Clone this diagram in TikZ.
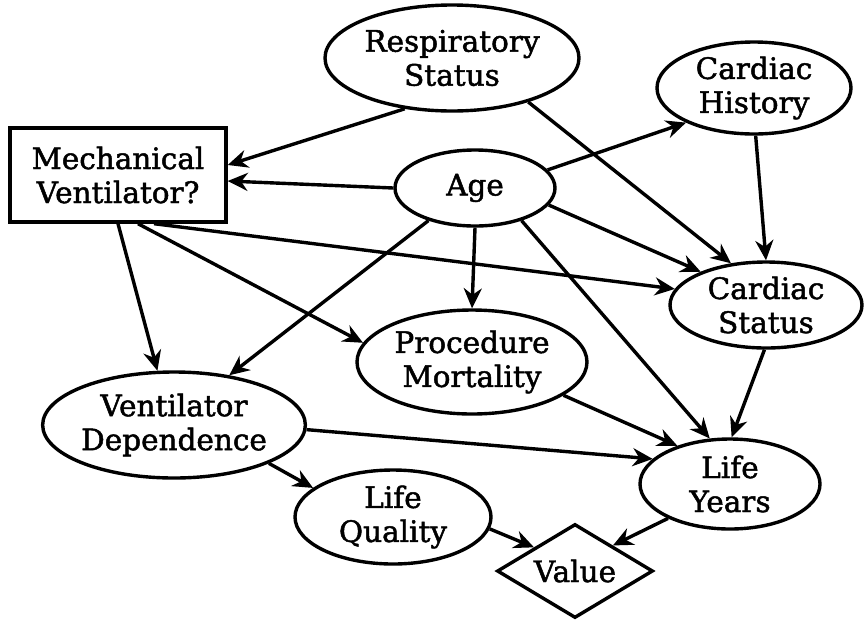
\documentclass[tikz,border=0pt]{standalone}
\usepackage{fontspec}
\setmainfont[FakeBold=1.6]{DejaVu Serif}
\usetikzlibrary{shapes.geometric,arrows.meta}
\begin{document}
\begin{tikzpicture}[x=1pt,y=-1pt,
  every node/.style={font=\fontsize{29.5}{34}\selectfont, align=center, inner sep=0pt, line width=3.4pt, draw},
  chance/.style={ellipse},
  decision/.style={rectangle},
  utility/.style={diamond, aspect=1.66},
  link/.style={line width=3.4pt, -{Stealth[length=20pt,width=18pt,inset=6.5pt]}},
]
\useasboundingbox (0,0) rectangle (864,622);

% decision, chance and value nodes
\node[chance, minimum width=254pt, minimum height=106pt] (resp) at (452,58) {Respiratory\\Status};
\node[chance, minimum width=194pt, minimum height=92pt] (ch) at (754,88) {Cardiac\\History};
\node[decision, minimum width=216pt, minimum height=94pt] (mv) at (118,175) {Mechanical\\Ventilator?};
\node[chance, minimum width=160pt, minimum height=76pt] (age) at (475,188) {Age};
\node[chance, minimum width=192pt, minimum height=86pt] (cs) at (766,305) {Cardiac\\Status};
\node[chance, minimum width=230pt, minimum height=104pt] (pm) at (472,362) {Procedure\\Mortality};
\node[chance, minimum width=258pt, minimum height=106pt] (vd) at (174,425) {Ventilator\\Dependence};
\node[chance, minimum width=196pt, minimum height=94pt] (lq) at (393,517) {Life\\Quality};
\node[chance, minimum width=180pt, minimum height=90pt] (ly) at (730,484) {Life\\Years};
\node[utility, minimum width=156pt, minimum height=94pt] (val) at (575,571) {Value};

% influences
\draw[link] (resp.227) -- ([yshift=10pt]mv.east);
\draw[link] (age.west) -- ([yshift=-6pt]mv.east);
\draw[link] (age.14) -- (ch.207);
\draw[link] (resp.-30) -- (cs.130);
\draw[link] (age.-13) -- (cs.153);
\draw[link] (ch.-88) -- (cs.90);
\draw[link] ([xshift=36pt]mv.south) -- (cs.170);
\draw[link] (age.south) -- (pm.north);
\draw[link] (age.-35) -- (ly.114);
\draw[link] (age.215) -- (vd.42);
\draw[link] (mv.south) -- (vd.107);
\draw[link] ([xshift=20pt]mv.south) -- (pm.170);
\draw[link] (cs.-92) -- (ly.88);
\draw[link] (pm.-20) -- (ly.144);
\draw[link] (vd.-2) -- (ly.162);
\draw[link] (vd.-22) -- (lq.160);
\draw[link] (lq.-7) -- (val.150);
\draw[link] (ly.209) -- (val.34);
\end{tikzpicture}
\end{document}
